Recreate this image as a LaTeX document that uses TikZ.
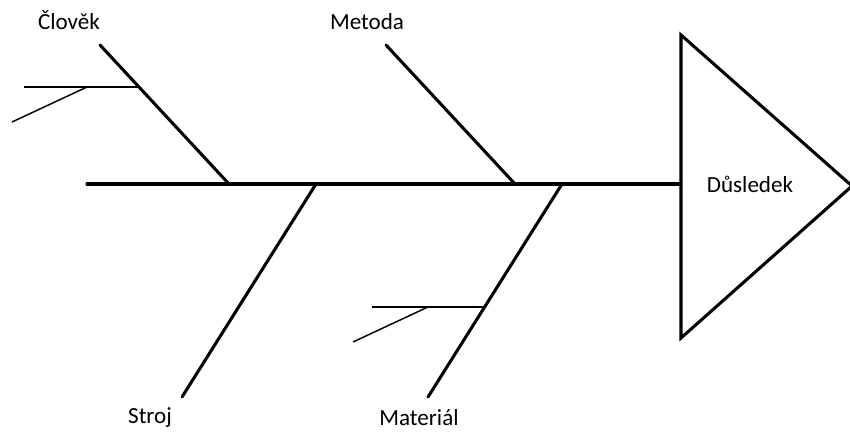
\documentclass[tikz,border=0pt]{standalone}
\usepackage{fontspec}
\setmainfont{Carlito}
\begin{document}
\begin{tikzpicture}[x=0.75pt,y=-0.75pt,
  bone/.style={line width=2.3pt,line cap=round},
  subbone/.style={line width=1.1pt},
  lbl/.style={font=\fontsize{17.3}{20}\selectfont,inner sep=0pt}]
\useasboundingbox (0,0) rectangle (850,435);
% spine
\coordinate (tail) at (87,184);
\coordinate (head) at (681,184);
% bones
\coordinate (c1) at (100,45);  \coordinate (c2) at (229,184);
\coordinate (m1) at (386,45);  \coordinate (m2) at (515,184);
\coordinate (s1) at (182,397); \coordinate (s2) at (316,184);
\coordinate (a1) at (428,397); \coordinate (a2) at (562,184);
% sub bones
\coordinate (ch1) at (24,87);  \coordinate (ch2) at (138,87);
\coordinate (cd1) at (12,122); \coordinate (cd2) at (87,87);
\coordinate (ah1) at (372,307); \coordinate (ah2) at (484,307);
\coordinate (ad1) at (353,342); \coordinate (ad2) at (428,307);
% triangle
\coordinate (t1) at (681,35);
\coordinate (t2) at (681,338);
\coordinate (t3) at (852,186);

\draw[bone] (tail) -- (head);
\draw[bone] (c1) -- (c2);
\draw[bone] (m1) -- (m2);
\draw[bone] (s1) -- (s2);
\draw[bone] (a1) -- (a2);
\draw[subbone] (ch1) -- (ch2);
\draw[subbone] (cd1) -- (cd2);
\draw[subbone] (ah1) -- (ah2);
\draw[subbone] (ad1) -- (ad2);
\draw[bone,line join=miter] (t1) -- (t3) -- (t2) -- cycle;

\node[lbl] (clovek) at (69,20) {Člověk};
\node[lbl] (metoda) at (367,22) {Metoda};
\node[lbl] (stroj) at (150,418) {Stroj};
\node[lbl] (material) at (419,418) {Materiál};
\node[lbl] (dusledek) at (750,184) {Důsledek};
\end{tikzpicture}
\end{document}
